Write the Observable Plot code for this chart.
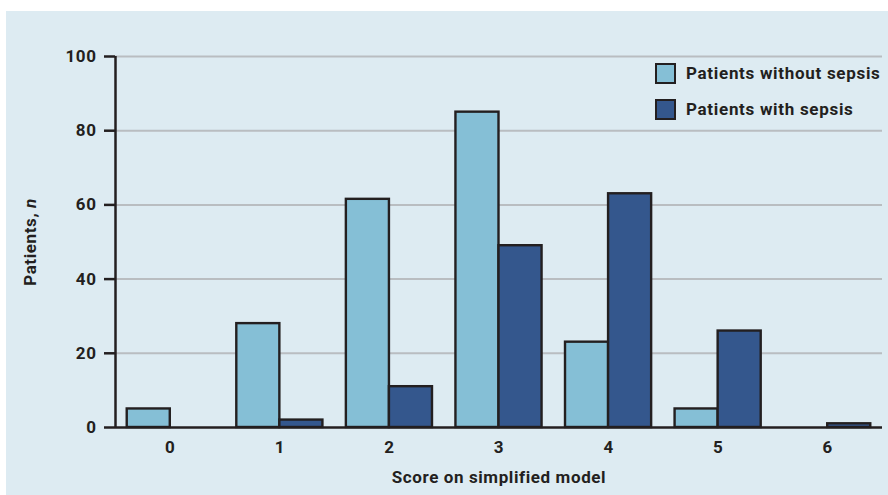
<!DOCTYPE html>
<html>
<head>
<meta charset="utf-8">
<script src="https://cdn.jsdelivr.net/npm/d3@7"></script>
<script src="https://cdn.jsdelivr.net/npm/@observablehq/plot@0.6"></script>
<style>
  html, body { margin: 0; padding: 0; background: #ffffff; }
  #panel { position: absolute; left: 6px; top: 11px; width: 882px; height: 484px; background: #ddebf2; font-family: Roboto, "DejaVu Sans", sans-serif; }
  #legend { position: absolute; left: 649px; top: 52px; font-weight: 700; font-size: 17px; letter-spacing: 0.7px; color: #231f20; }
  .item { display: flex; align-items: center; height: 20px; margin-bottom: 16px; white-space: nowrap; }
  .sw { width: 17px; height: 17px; border: 2px solid #231f20; margin-right: 10px; box-sizing: content-box; }
  svg text { letter-spacing: 0.6px; }
</style>
</head>
<body>
<div id="panel"><div id="legend"></div></div>
<script>
const scores = [0, 1, 2, 3, 4, 5, 6];
const seriesNames = ["Patients without sepsis", "Patients with sepsis"];
const withoutSepsis = [5, 28, 61.5, 85, 23, 5, 0];
const withSepsis = [0, 2, 11, 49, 63, 26, 1];
const yTicks = [0, 20, 40, 60, 80, 100];
const colors = ["#85bfd6", "#34578d"];

const half = 0.393;
const rows = [];
scores.forEach((s, i) => {
  rows.push({score: s, series: seriesNames[0], value: withoutSepsis[i], x1: s - half, x2: s});
  rows.push({score: s, series: seriesNames[1], value: withSepsis[i], x1: s, x2: s + half});
});

const chart = Plot.plot({
  width: 882,
  height: 484,
  marginLeft: 109,
  marginRight: 6,
  marginTop: 45,
  marginBottom: 68,
  style: {background: "transparent", fontFamily: "Roboto, 'DejaVu Sans', sans-serif", fontWeight: 700, fontSize: "17px", color: "#231f20"},
  x: {domain: [-0.5, 6.5]},
  y: {domain: [0, 100]},
  color: {domain: seriesNames, range: colors},
  marks: [
    Plot.ruleY(yTicks.filter(d => d > 0), {stroke: "#b9bdc1", strokeWidth: 2}),
    Plot.rectY(rows.filter(d => d.value > 0), {x1: "x1", x2: "x2", y: "value", fill: "series", stroke: "#231f20", strokeWidth: 2.4}),
    Plot.ruleY([0], {stroke: "#231f20", strokeWidth: 2.5}),
    Plot.ruleX([-0.5], {y1: 0, y2: 100, stroke: "#231f20", strokeWidth: 2.5}),
    Plot.axisY({ticks: yTicks, tickSize: 11, tickPadding: 8, strokeWidth: 2.5, stroke: "#231f20",
      label: "Patients, n", labelArrow: "none", labelAnchor: "center", labelOffset: 92, fontSize: 17}),
    Plot.axisX({ticks: scores, tickSize: 0, tickPadding: 13, tickFormat: d => String(d),
      label: "Score on simplified model", labelArrow: "none", labelAnchor: "center", labelOffset: 55, fontSize: 17})
  ]
});

// strip any arrows and set italic n in y label
d3.select(chart).selectAll("text").each(function() {
  const txt = this.textContent;
  if (txt.startsWith("Patients, n")) {
    const t = d3.select(this);
    t.text("");
    t.append("tspan").text("Patients, ");
    t.append("tspan").attr("font-style", "italic").text("n");
  } else if (txt.startsWith("Score on simplified model")) {
    d3.select(this).text("Score on simplified model");
  }
});

document.getElementById("panel").appendChild(chart);
chart.style.position = "absolute";
chart.style.left = "0px";
chart.style.top = "0px";

const legend = document.getElementById("legend");
seriesNames.forEach((name, i) => {
  const item = document.createElement("div");
  item.className = "item";
  const sw = document.createElement("div");
  sw.className = "sw";
  sw.style.background = colors[i];
  const label = document.createElement("span");
  label.textContent = name;
  item.appendChild(sw);
  item.appendChild(label);
  legend.appendChild(item);
});
document.getElementById("panel").appendChild(legend);
</script>
</body>
</html>
